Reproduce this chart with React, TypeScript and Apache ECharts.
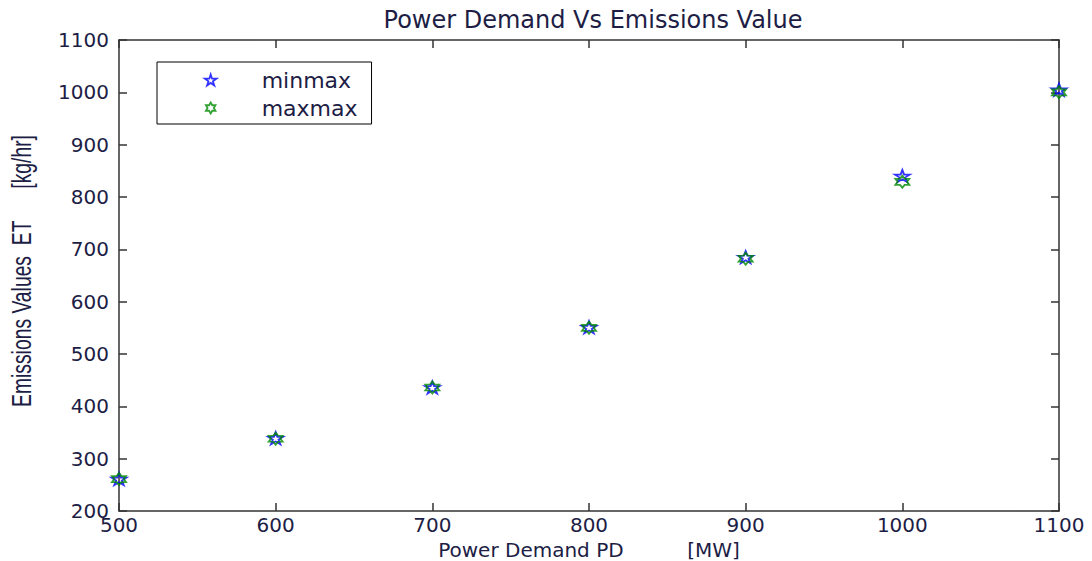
import React, { useEffect, useRef } from "react";
import * as echarts from "echarts";

const powerDemand = [500, 600, 700, 800, 900, 1000, 1100];
const minmaxValues = [261, 339, 436, 551, 685, 840, 1005];
const maxmaxValues = [261, 338, 436, 550, 682, 829, 1000];
const seriesNames = ["minmax", "maxmax"];

const PENTAGRAM =
  "path://M10 0 L12.25 6.91 L19.51 6.91 L13.63 11.18 L15.88 18.09 L10 13.82 L4.12 18.09 L6.37 11.18 L0.49 6.91 L7.75 6.91 Z";
const HEXAGRAM =
  "path://M10 0 L12.89 5 L18.66 5 L15.77 10 L18.66 15 L12.89 15 L10 20 L7.11 15 L1.34 15 L4.23 10 L1.34 5 L7.11 5 Z";

const TEXT = "#201d45";
const AXIS = "#333333";
const FONT = "DejaVu Sans";

export default function App() {
  const ref = useRef<HTMLDivElement>(null);
  useEffect(() => {
    if (!ref.current) return;
    const chart = echarts.init(ref.current, null, { renderer: "svg" });
    const axisLine = { show: true, lineStyle: { color: AXIS, width: 1.5 } };
    const tick = { show: true, inside: true, length: 8, lineStyle: { color: AXIS, width: 1.5 } };
    const fmt = (v: number) => String(v);
    chart.setOption({
      animation: false,
      backgroundColor: "#ffffff",
      title: {
        text: "Power Demand Vs Emissions Value",
        left: 588,
        textAlign: "center",
        top: 3,
        textStyle: { fontFamily: FONT, fontSize: 24, fontWeight: "normal", color: TEXT },
      },
      grid: { left: 119, right: 33, top: 40, bottom: 50, outerBoundsMode: "none", containLabel: false },
      legend: {
        left: 157,
        top: 62,
        orient: "vertical",
        borderColor: "#000",
        borderWidth: 1,
        padding: [7, 14, 5, 47],
        itemGap: 6,
        itemWidth: 14,
        itemHeight: 11,
        backgroundColor: "#fff",
        textStyle: {
          fontFamily: FONT,
          fontSize: 22,
          color: TEXT,
          lineHeight: 20,
          padding: [0, 0, 0, 39],
        },
        data: [
          { name: seriesNames[0], icon: PENTAGRAM, itemStyle: { color: "transparent", borderColor: "#0000ff", borderWidth: 1.8 } },
          { name: seriesNames[1], icon: HEXAGRAM, itemStyle: { color: "transparent", borderColor: "#008a00", borderWidth: 1.8 } },
        ],
      },
      xAxis: [
        {
          type: "value",
          min: 500,
          max: 1100,
          interval: 100,
          position: "bottom",
          name: "Power Demand PD          [MW]",
          nameLocation: "middle",
          nameGap: 27,
          nameTextStyle: { fontFamily: FONT, fontSize: 20, color: TEXT },
          axisLine,
          axisTick: tick,
          splitLine: { show: false },
          axisLabel: { fontFamily: FONT, fontSize: 20, color: TEXT, margin: 4, formatter: fmt },
        },
        {
          type: "value",
          min: 500,
          max: 1100,
          interval: 100,
          position: "top",
          axisLine,
          axisTick: tick,
          splitLine: { show: false },
          axisLabel: { show: false },
        },
      ],
      yAxis: [
        {
          type: "value",
          min: 200,
          max: 1100,
          interval: 100,
          position: "left",
          axisLine,
          axisTick: tick,
          splitLine: { show: false },
          axisLabel: { fontFamily: FONT, fontSize: 20, color: TEXT, margin: 10, formatter: fmt },
        },
        {
          type: "value",
          min: 200,
          max: 1100,
          interval: 100,
          position: "right",
          axisLine,
          axisTick: tick,
          splitLine: { show: false },
          axisLabel: { show: false },
        },
      ],
      graphic: [
        {
          type: "text",
          x: 21,
          y: 271,
          rotation: Math.PI / 2,
          scaleX: 0.69,
          style: {
            text: "Emissions Values  ET      [kg/hr]",
            font: "28px 'Liberation Sans'",
            fill: TEXT,
            align: "center",
            verticalAlign: "middle",
          },
        },
      ],
      series: [
        {
          name: seriesNames[0],
          type: "scatter",
          xAxisIndex: 0,
          yAxisIndex: 0,
          symbol: PENTAGRAM,
          symbolSize: [15, 12],
          symbolKeepAspect: false,
          itemStyle: { color: "transparent", borderColor: "#0000ff", borderWidth: 1.8 },
          data: powerDemand.map((x, i) => [x, minmaxValues[i]]),
          z: 3,
        },
        {
          name: seriesNames[1],
          type: "scatter",
          xAxisIndex: 0,
          yAxisIndex: 0,
          symbol: HEXAGRAM,
          symbolSize: [14, 12],
          symbolKeepAspect: false,
          itemStyle: { color: "transparent", borderColor: "#008a00", borderWidth: 1.8 },
          data: powerDemand.map((x, i) => [x, maxmaxValues[i]]),
          z: 4,
        },
      ],
    });
    return () => chart.dispose();
  }, []);
  return (
    <div
      ref={ref}
      style={{ position: "fixed", left: 0, top: 0, width: 1092, height: 561 }}
    />
  );
}
